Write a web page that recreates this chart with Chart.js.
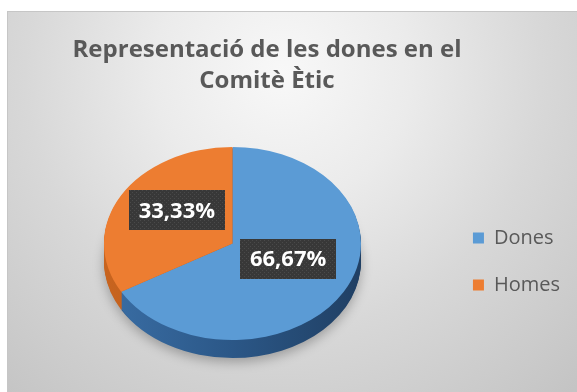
<!DOCTYPE html>
<html lang="ca">
<head>
<meta charset="utf-8">
<title>Representació de les dones en el Comitè Ètic</title>
<script src="https://cdn.jsdelivr.net/npm/chart.js@4.4.1/dist/chart.umd.min.js"></script>
<style>
  html, body { margin: 0; padding: 0; background: #fff; overflow: hidden; }
  #frame {
    position: absolute; left: 7px; top: 11px; width: 570px; height: 381px;
    border-top: 1px solid #c6c6c6; border-left: 1px solid #c6c6c6;
    background: #dcdcdc;
  }
  canvas { display: block; }
</style>
</head>
<body>
<div id="frame"><canvas id="comiteChart" width="569" height="380"></canvas></div>
<script>
const categories = ['Dones', 'Homes'];
const percentages = [66.67, 33.33];
const titleLines = ['Representació de les dones en el', 'Comitè Ètic'];

const topColors = ['#5b9bd5', '#ed7d31'];
const sideColors = [
    ['#3a6ea5', '#2b5787', '#203f63'],
    ['#c8641f', '#b25a1c', '#9c4f18']
];

const DEPTH = 18;        // thickness of the slab, px
const TILT = 0.751;      // vertical squash of the disc
const LABEL_RAISE = 9;

// maps the flat pie onto a tilted disc lifted by `lift` px
function tilt(ctx, cx, cy, lift) {
    ctx.translate(cx, cy - lift);
    ctx.scale(1, TILT);
    ctx.translate(-cx, -cy);
}

function wedge(ctx, a) {
    ctx.beginPath();
    ctx.moveTo(a.x, a.y);
    ctx.arc(a.x, a.y, a.outerRadius, a.startAngle, a.endAngle);
    ctx.closePath();
}

function dotPattern(ctx) {
    const c = document.createElement('canvas');
    c.width = 4; c.height = 4;
    const p = c.getContext('2d');
    p.fillStyle = '#383838';
    p.fillRect(0, 0, 4, 4);
    p.fillStyle = '#4a4a4a';
    p.fillRect(0, 0, 1, 1);
    p.fillRect(2, 2, 1, 1);
    return ctx.createPattern(c, 'repeat');
}

const formatPct = v => v.toFixed(2).replace('.', ',') + '%';

// grey radial wash behind everything
const backdrop = {
    id: 'backdrop',
    beforeDraw(chart) {
        const ctx = chart.ctx;
        const g = ctx.createRadialGradient(275, 60, 0, 275, 60, 430);
        g.addColorStop(0, '#f8f8f8');
        g.addColorStop(0.3, '#ebebeb');
        g.addColorStop(0.6, '#d8d8d8');
        g.addColorStop(1, '#c4c4c4');
        ctx.save();
        ctx.fillStyle = g;
        ctx.fillRect(0, 0, chart.width, chart.height);
        ctx.restore();
    }
};

const pie3d = {
    id: 'pie3d',
    beforeDatasetsDraw(chart) {
        const ctx = chart.ctx;
        const arcs = chart.getDatasetMeta(0).data;
        if (!arcs.length) return;
        const props = arcs.map(a => a.getProps(['x', 'y', 'startAngle', 'endAngle', 'outerRadius']));
        const {x: cx, y: cy, outerRadius: r} = props[0];

        const fills = sideColors.map(cols => {
            const g = ctx.createLinearGradient(cx - r, 0, cx + r, 0);
            g.addColorStop(0, cols[0]);
            g.addColorStop(0.5, cols[1]);
            g.addColorStop(1, cols[2]);
            return g;
        });

        // side wall, stacked from the floor up
        for (let i = 0; i < DEPTH; i++) {
            ctx.save();
            tilt(ctx, cx, cy, i);
            if (i === 0) {
                ctx.shadowColor = 'rgba(0,0,0,0.28)';
                ctx.shadowBlur = 12;
                ctx.shadowOffsetY = 4;
            }
            props.forEach((a, j) => {
                wedge(ctx, a);
                ctx.fillStyle = fills[j];
                ctx.fill();
            });
            ctx.restore();
        }

        // top face is drawn by the doughnut controller itself
        ctx.save();
        tilt(ctx, cx, cy, DEPTH);
    },
    afterDatasetsDraw(chart) {
        const ctx = chart.ctx;
        ctx.restore();
        const arcs = chart.getDatasetMeta(0).data;
        if (!arcs.length) return;
        const cy = arcs[0].y;
        const values = chart.data.datasets[0].data;

        ctx.save();
        ctx.font = 'bold 22px "Open Sans"';
        ctx.textAlign = 'center';
        ctx.textBaseline = 'middle';
        const pattern = dotPattern(ctx);
        arcs.forEach((arc, i) => {
            const p = arc.tooltipPosition();
            const x = p.x;
            const y = cy - DEPTH + (p.y - cy) * TILT - LABEL_RAISE;
            const text = formatPct(values[i]);
            const w = ctx.measureText(text).width + 20;
            const h = 40;
            ctx.fillStyle = pattern;
            ctx.fillRect(Math.round(x - w / 2), Math.round(y - h / 2), Math.round(w), h);
            ctx.fillStyle = '#ffffff';
            ctx.fillText(text, x, y + 1);
        });
        ctx.restore();
    }
};

const headline = {
    id: 'headline',
    afterDraw(chart) {
        const ctx = chart.ctx;
        ctx.save();
        ctx.font = 'bold 24px "Open Sans"';
        ctx.fillStyle = '#595959';
        ctx.textAlign = 'center';
        ctx.textBaseline = 'alphabetic';
        titleLines.forEach((line, i) => ctx.fillText(line, 259, 45 + i * 31));
        ctx.restore();
    }
};

new Chart(document.getElementById('comiteChart'), {
    type: 'pie',
    data: {
        labels: categories,
        datasets: [{
            data: percentages,
            backgroundColor: topColors,
            borderWidth: 0
        }]
    },
    options: {
        responsive: false,
        animation: false,
        devicePixelRatio: 1,
        layout: { padding: { left: 11, right: 7, top: 121, bottom: 2 } },
        plugins: {
            legend: {
                position: 'right',
                labels: {
                    boxWidth: 11,
                    boxHeight: 11,
                    padding: 27,
                    color: '#595959',
                    font: { family: 'Open Sans', size: 20 }
                }
            },
            tooltip: { enabled: false }
        }
    },
    plugins: [backdrop, pie3d, headline]
});
</script>
</body>
</html>
